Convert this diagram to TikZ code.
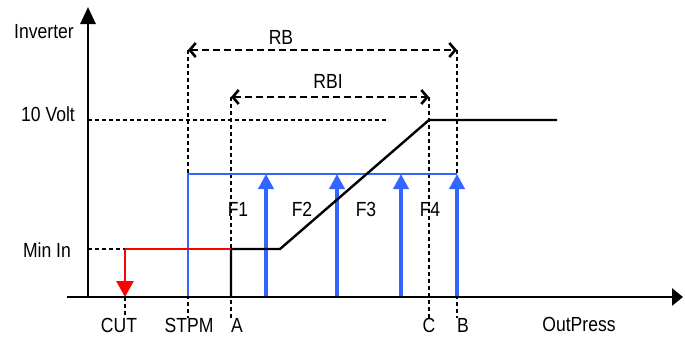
\documentclass[tikz,border=0pt]{standalone}
\usepackage{fontspec}
\setmainfont{Liberation Sans}[FakeStretch=0.86]
\usetikzlibrary{arrows.meta}
\definecolor{fblue}{RGB}{51,102,255}
\definecolor{fred}{RGB}{255,0,0}

\begin{document}
\begin{tikzpicture}[x=1bp,y=-1bp, font=\fontsize{20.5}{22}\selectfont, line join=round,
	guide/.style={dash pattern=on 4bp off 3bp, line width=1.3bp},
	span/.style={dash pattern=on 7bp off 4bp, line width=2.6bp, {Straight Barb[length=6bp,width=14bp]}-{Straight Barb[length=6bp,width=14bp]}},
	farrow/.style={fblue, line width=3.8bp, -{Triangle[length=15bp,width=15bp]}},
	tick/.style={anchor=base, inner sep=1bp}]
	\useasboundingbox (0,0) rectangle (685,338);
	\def\yax{297} \def\ymin{249} \def\yten{120} \def\yf{174}
	\coordinate (O) at (88,\yax);
	% levels and guides
	\draw[guide] (O|-0,\yten)--(387,\yten);
	\draw[guide] (O|-0,\ymin)--(125,\ymin);
	\foreach \x/\t in {188/50, 231/97, 429/97, 457/50}
	{\draw[guide] (\x,\t)--(\x,318);}
	\draw[guide] (125,\yax)--(125,318);
	% frequency band
	\draw[fblue, line width=2.8bp] (188,\yax)--(188,\yf)--(457,\yf);
	\foreach \x in {266,337,401,457}
	{\draw[farrow] (\x,\yax)--(\x,\yf);}
	% inverter curve
	\draw[line width=2.4bp] (231,\yax)--(231,\ymin)--(280,\ymin)--(429,\yten)--(557,\yten);
	\draw[fred, line width=2.8bp] (231,\ymin)--(125,\ymin);
	\draw[fred, line width=2.8bp, -{Triangle[length=16bp,width=17bp]}] (125,\ymin)--(125,\yax);
	% axes
	\draw[line width=2.8bp, -{Triangle[length=11bp,width=17bp]}] (67,\yax)--(683,\yax);
	\draw[line width=2.8bp, -{Triangle[length=17bp,width=15bp]}] (O)--(88,7);
	% ranges
	\draw[span] (188,50)--(457,50);
	\draw[span] (231,97)--(429,97);
	\node (rb) at (281,37) {RB};
	\node (rbi) at (328,81) {RBI};
	% labels
	\node (inv) at (44,32) {Inverter};
	\node (volt) at (48,114) {10 Volt};
	\node (minin) at (47,250) {Min In};
	\node[tick] (cut) at (119,332) {CUT};
	\node[tick] (stpm) at (189,332) {STPM};
	\node[tick] (a) at (237,332) {A};
	\node[tick] (c) at (429,332) {C};
	\node[tick] (b) at (463,332) {B};
	\node (outp) at (579,324) {OutPress};
	\foreach \x/\n in {238/1, 302/2, 366/3, 430/4}
	{\node (f\n) at (\x,209) {F\n};}
\end{tikzpicture}
\end{document}
